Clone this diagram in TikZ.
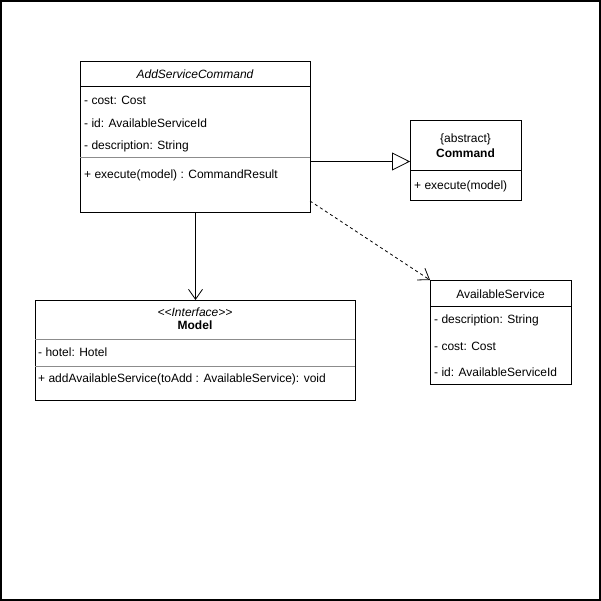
\documentclass[tikz,border=0pt]{standalone}
\usepackage{fontspec}
\setmainfont{Liberation Sans}
\usetikzlibrary{arrows.meta}
\begin{document}
\begin{tikzpicture}[x=1pt,y=-1pt,
  umlbox/.style={draw=black, line width=1pt, anchor=north west, inner sep=0pt, fill=white},
  sepline/.style={line width=1pt, draw=black},
  graysep/.style={line width=1pt, draw=black!45},
  attr/.style={anchor=west, inner sep=0pt, font=\fontsize{12}{14}\selectfont},
  ctitle/.style={inner sep=0pt, font=\fontsize{12}{14}\selectfont},
  conn/.style={line width=0.8pt, draw=black},
  gen/.style={conn, -{Triangle[open, length=18pt, width=18pt, line width=0.8pt]}},
  assoc/.style={conn, -{Straight Barb[length=10pt, width=14pt, line width=0.8pt]}},
  dep/.style={conn, dash pattern=on 3pt off 3pt, -{Straight Barb[length=10pt, width=14pt, line width=0.8pt]}}
]
\useasboundingbox (0,0) rectangle (601,601);
\draw[line width=2pt] (1,1) rectangle (600,600);

% AddServiceCommand
\node[umlbox, minimum width=230pt, minimum height=151pt] (asc) at (80,61) {};
\node[ctitle] (ascname) at (195,74) {\itshape AddServiceCommand};
\draw[sepline] (80,87) -- (310,87);
\node[attr] (asc1) at (84,100) {- cost: Cost};
\node[attr] (asc2) at (84,123) {- id: AvailableServiceId};
\node[attr] (asc3) at (84,146) {- description: String};
\draw[graysep] (80,158) -- (310,158);
\node[attr] (asc4) at (84,175) {+ execute(model) : CommandResult};

% Command
\node[umlbox, minimum width=111pt, minimum height=80pt] (cmd) at (410,120) {};
\node[ctitle] (cmdst) at (465.5,139) {\{abstract\}};
\node[ctitle] (cmdname) at (465.5,153) {\bfseries Command};
\draw[sepline] (410,171) -- (521,171);
\node[attr] (cmd1) at (414,186) {+ execute(model)};

% Model
\node[umlbox, minimum width=320pt, minimum height=100pt] (model) at (35,300) {};
\node[ctitle] (modelst) at (195,312) {\itshape <{}<Interface>{}>};
\node[ctitle] (modelname) at (195,325) {\bfseries Model};
\draw[graysep] (35,339) -- (355,339);
\node[attr] (model1) at (38,352) {- hotel: Hotel};
\draw[graysep] (35,366) -- (355,366);
\node[attr] (model2) at (38,379) {+ addAvailableService(toAdd : AvailableService): void};

% AvailableService
\node[umlbox, minimum width=141pt, minimum height=104pt] (avs) at (430,280) {};
\node[ctitle] (avsname) at (500.5,294) {AvailableService};
\draw[sepline] (430,306) -- (571,306);
\node[attr] (avs1) at (434,320) {- description: String};
\node[attr] (avs2) at (434,346) {- cost: Cost};
\node[attr] (avs3) at (434,372) {- id: AvailableServiceId};

% connectors
\draw[gen] (cmd.west -| asc.east) ++(0,1) -- ([yshift=-1pt]cmd.west);
\draw[assoc] (asc.south) -- (model.north);
\coordinate (depstart) at (310,201);
\draw[dep] (depstart) -- (avs.north west);
\end{tikzpicture}
\end{document}
